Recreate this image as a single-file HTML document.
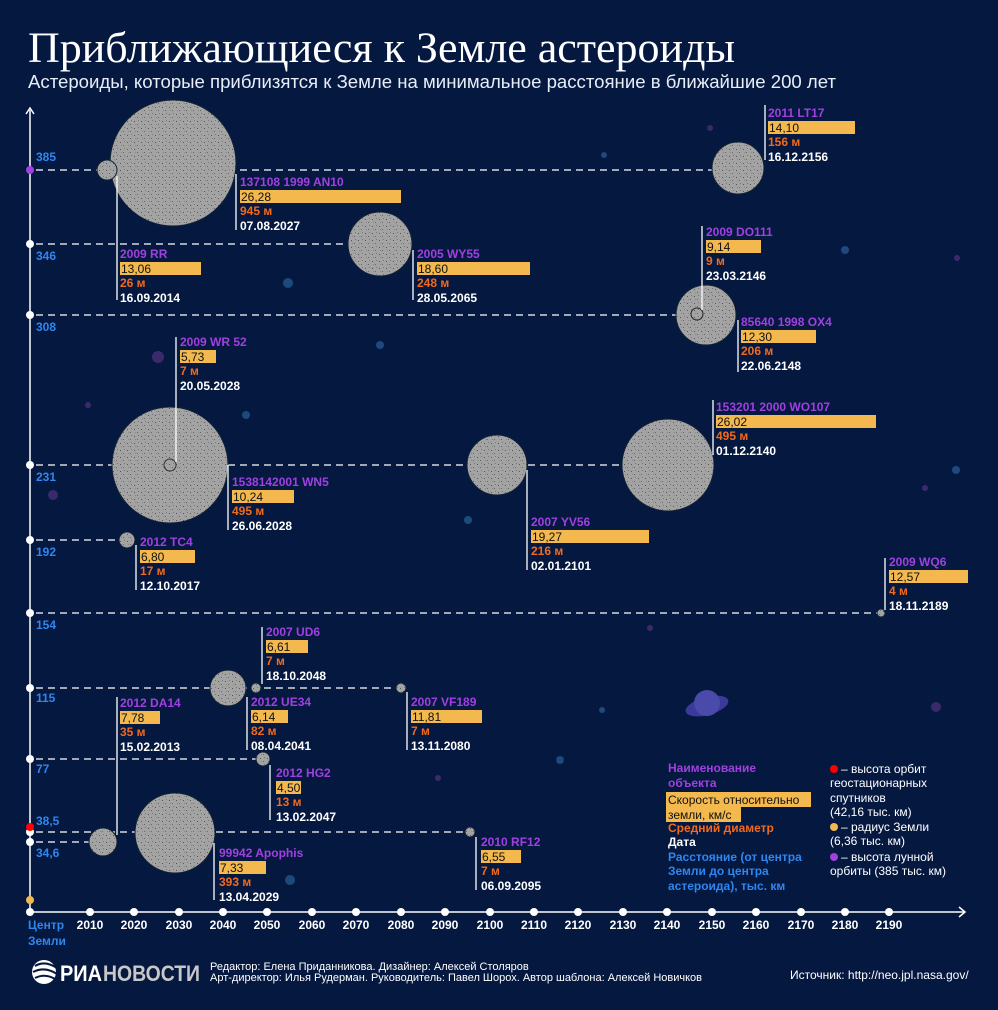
<!DOCTYPE html>
<html><head><meta charset="utf-8"><style>
html,body{margin:0;padding:0;background:#051840;}
svg{display:block;font-family:"Liberation Sans","DejaVu Sans",sans-serif;}
.n{fill:#a040e0;font-size:12px;font-weight:bold}
.s{fill:#111;font-size:12px}
.d{fill:#f26a1b;font-size:12px;font-weight:bold}
.t{fill:#fff;font-size:12px;font-weight:bold}
.b{fill:#f3b84e}
.v{stroke:#fff;stroke-width:1.3}
.ds{stroke:#fff;stroke-width:1.3;stroke-dasharray:7 5}
.a{fill:url(#dots)}
.yl{fill:#2e86f0;font-size:12px;font-weight:bold}
.tk{fill:#fff;font-size:12px;font-weight:bold;text-anchor:middle}
.lg{font-size:12px}
</style></head><body>
<svg width="998" height="1010" viewBox="0 0 998 1010">
<defs>
<pattern id="dots" width="7" height="7" patternUnits="userSpaceOnUse">
<rect width="7" height="7" fill="#a3a3a3"/>
<rect x="1" y="2" width="1" height="1" fill="#555"/>
<rect x="4" y="5" width="1" height="1" fill="#666"/>
<rect x="5" y="1" width="1" height="1" fill="#777"/>
<rect x="2" y="5" width="1" height="1" fill="#888"/>
</pattern>
</defs>
<rect width="998" height="1010" fill="#051840"/>
<g fill="#1c4a7a">
<circle cx="288" cy="283" r="5"/><circle cx="246" cy="415" r="4"/><circle cx="380" cy="345" r="4"/><circle cx="290" cy="880" r="5"/><circle cx="468" cy="520" r="4"/><circle cx="956" cy="470" r="4"/><circle cx="845" cy="250" r="4"/><circle cx="604" cy="155" r="3"/><circle cx="560" cy="760" r="4"/><circle cx="602" cy="710" r="3"/>
</g>
<g fill="#3a2a6a">
<circle cx="158" cy="357" r="6"/><circle cx="53" cy="495" r="5"/><circle cx="88" cy="405" r="3"/><circle cx="936" cy="707" r="5"/><circle cx="925" cy="488" r="3"/><circle cx="710" cy="128" r="3"/><circle cx="438" cy="778" r="3"/><circle cx="957" cy="258" r="3"/><circle cx="650" cy="628" r="3"/></g>
<ellipse cx="707" cy="706" rx="22" ry="9" fill="#3a3a9a" transform="rotate(-15 707 706)"/>
<circle cx="707" cy="703" r="13" fill="#4a4aaa"/>
<text x="28" y="62" fill="#fff" font-family="Liberation Serif,serif" font-size="43" textLength="707" lengthAdjust="spacingAndGlyphs">Приближающиеся к Земле астероиды</text>
<text x="28" y="88" fill="#e8eef8" font-size="18.5" textLength="808" lengthAdjust="spacingAndGlyphs">Астероиды, которые приблизятся к Земле на минимальное расстояние в ближайшие 200 лет</text>
<line x1="30" y1="110" x2="30" y2="912" stroke="#fff" stroke-width="1.5"/>
<polyline points="26,114 30,108 34,114" fill="none" stroke="#fff" stroke-width="1.5"/>
<line x1="30" y1="912" x2="965" y2="912" stroke="#fff" stroke-width="1.5"/>
<polyline points="959,907 965,912 959,917" fill="none" stroke="#fff" stroke-width="1.5"/>
<g fill="#fff">
<circle cx="30" cy="912" r="4"/><circle cx="90" cy="912" r="4"/><circle cx="134" cy="912" r="4"/><circle cx="179" cy="912" r="4"/><circle cx="223" cy="912" r="4"/><circle cx="267" cy="912" r="4"/><circle cx="312" cy="912" r="4"/><circle cx="356" cy="912" r="4"/><circle cx="401" cy="912" r="4"/><circle cx="445" cy="912" r="4"/><circle cx="490" cy="912" r="4"/><circle cx="534" cy="912" r="4"/><circle cx="578" cy="912" r="4"/><circle cx="623" cy="912" r="4"/><circle cx="667" cy="912" r="4"/><circle cx="712" cy="912" r="4"/><circle cx="756" cy="912" r="4"/><circle cx="801" cy="912" r="4"/><circle cx="845" cy="912" r="4"/><circle cx="889" cy="912" r="4"/>
</g>
<g class="tk">
<text x="90" y="929">2010</text><text x="134" y="929">2020</text><text x="179" y="929">2030</text><text x="223" y="929">2040</text><text x="267" y="929">2050</text><text x="312" y="929">2060</text><text x="356" y="929">2070</text><text x="401" y="929">2080</text><text x="445" y="929">2090</text><text x="490" y="929">2100</text><text x="534" y="929">2110</text><text x="578" y="929">2120</text><text x="623" y="929">2130</text><text x="667" y="929">2140</text><text x="712" y="929">2150</text><text x="756" y="929">2160</text><text x="801" y="929">2170</text><text x="845" y="929">2180</text><text x="889" y="929">2190</text>
</g>
<text x="28" y="929" class="yl">Центр</text><text x="28" y="945" class="yl">Земли</text>
<line x1="36" y1="170" x2="730" y2="170" class="ds"/>
<line x1="36" y1="244" x2="360" y2="244" class="ds"/>
<line x1="36" y1="315" x2="690" y2="315" class="ds"/>
<line x1="36" y1="465" x2="640" y2="465" class="ds"/>
<line x1="36" y1="540" x2="122" y2="540" class="ds"/>
<line x1="36" y1="613" x2="878" y2="613" class="ds"/>
<line x1="36" y1="688" x2="398" y2="688" class="ds"/>
<line x1="36" y1="759" x2="258" y2="759" class="ds"/>
<line x1="36" y1="832" x2="466" y2="832" class="ds"/>
<line x1="36" y1="842" x2="90" y2="842" class="ds"/>
<circle cx="30" cy="170" r="4" fill="#a040e0"/>
<g fill="#fff"><circle cx="30" cy="244" r="4"/><circle cx="30" cy="315" r="4"/><circle cx="30" cy="465" r="4"/><circle cx="30" cy="540" r="4"/><circle cx="30" cy="613" r="4"/><circle cx="30" cy="688" r="4"/><circle cx="30" cy="759" r="4"/><circle cx="30" cy="832" r="4"/><circle cx="30" cy="842" r="4"/></g>
<circle cx="30" cy="827" r="4" fill="#f00"/>
<circle cx="30" cy="900" r="4" fill="#f3b84e"/>
<g class="yl">
<text x="36" y="161">385</text><text x="36" y="260">346</text><text x="36" y="331">308</text><text x="36" y="481">231</text><text x="36" y="556">192</text><text x="36" y="629">154</text><text x="36" y="702">115</text><text x="36" y="773">77</text><text x="36" y="825">38,5</text><text x="36" y="857">34,6</text>
</g>
<g class="a" stroke="#123" stroke-width="1">
<circle cx="173" cy="163" r="63"/>
<circle cx="107" cy="170" r="10"/>
<circle cx="380" cy="244" r="32"/>
<circle cx="738" cy="168" r="26"/>
<circle cx="706" cy="315" r="30"/>
<circle cx="170" cy="465" r="58"/>
<circle cx="497" cy="465" r="30"/>
<circle cx="668" cy="465" r="46"/>
<circle cx="127" cy="540" r="8"/>
<circle cx="881" cy="613" r="4"/>
<circle cx="256" cy="688" r="5"/>
<circle cx="228" cy="688" r="18"/>
<circle cx="401" cy="688" r="5"/>
<circle cx="263" cy="759" r="7"/>
<circle cx="103" cy="842" r="14"/>
<circle cx="175" cy="833" r="40"/>
<circle cx="470" cy="832" r="5"/>
</g>
<circle cx="697" cy="314" r="6" fill="none" stroke="#222" stroke-width="1"/>
<circle cx="170" cy="465" r="6" fill="none" stroke="#333" stroke-width="1"/>
<g class="v">
<line x1="117" y1="176" x2="117" y2="300"/>
<line x1="236" y1="174" x2="236" y2="230"/>
<line x1="413" y1="250" x2="413" y2="300"/>
<line x1="765" y1="105" x2="765" y2="160"/>
<line x1="702" y1="226" x2="702" y2="310"/>
<line x1="738" y1="320" x2="738" y2="372"/>
<line x1="176" y1="337" x2="176" y2="462"/>
<line x1="228" y1="465" x2="228" y2="530"/>
<line x1="527" y1="470" x2="527" y2="570"/>
<line x1="713" y1="400" x2="713" y2="455"/>
<line x1="136" y1="545" x2="136" y2="590"/>
<line x1="885" y1="558" x2="885" y2="610"/>
<line x1="262" y1="627" x2="262" y2="684"/>
<line x1="117" y1="697" x2="117" y2="835"/>
<line x1="247" y1="697" x2="247" y2="750"/>
<line x1="407" y1="692" x2="407" y2="750"/>
<line x1="270" y1="765" x2="270" y2="820"/>
<line x1="214" y1="843" x2="214" y2="900"/>
<line x1="476" y1="837" x2="476" y2="890"/>
</g>
<g>
<text class="n" x="240" y="186">137108 1999 AN10</text><rect class="b" x="240" y="190" width="161" height="13"/><text class="s" x="241" y="201">26,28</text><text class="d" x="240" y="215">945 м</text><text class="t" x="240" y="230">07.08.2027</text>
<text class="n" x="120" y="258">2009 RR</text><rect class="b" x="120" y="262" width="81" height="13"/><text class="s" x="121" y="273">13,06</text><text class="d" x="120" y="287">26 м</text><text class="t" x="120" y="302">16.09.2014</text>
<text class="n" x="417" y="258">2005 WY55</text><rect class="b" x="417" y="262" width="113" height="13"/><text class="s" x="418" y="273">18,60</text><text class="d" x="417" y="287">248 м</text><text class="t" x="417" y="302">28.05.2065</text>
<text class="n" x="768" y="117">2011 LT17</text><rect class="b" x="768" y="121" width="87" height="13"/><text class="s" x="769" y="132">14,10</text><text class="d" x="768" y="146">156 м</text><text class="t" x="768" y="161">16.12.2156</text>
<text class="n" x="706" y="236">2009 DO111</text><rect class="b" x="706" y="240" width="55" height="13"/><text class="s" x="707" y="251">9,14</text><text class="d" x="706" y="265">9 м</text><text class="t" x="706" y="280">23.03.2146</text>
<text class="n" x="741" y="326">85640 1998 OX4</text><rect class="b" x="741" y="330" width="75" height="13"/><text class="s" x="742" y="341">12,30</text><text class="d" x="741" y="355">206 м</text><text class="t" x="741" y="370">22.06.2148</text>
<text class="n" x="180" y="346">2009 WR 52</text><rect class="b" x="180" y="350" width="36" height="13"/><text class="s" x="181" y="361">5,73</text><text class="d" x="180" y="375">7 м</text><text class="t" x="180" y="390">20.05.2028</text>
<text class="n" x="232" y="486">1538142001 WN5</text><rect class="b" x="232" y="490" width="62" height="13"/><text class="s" x="233" y="501">10,24</text><text class="d" x="232" y="515">495 м</text><text class="t" x="232" y="530">26.06.2028</text>
<text class="n" x="531" y="526">2007 YV56</text><rect class="b" x="531" y="530" width="118" height="13"/><text class="s" x="532" y="541">19,27</text><text class="d" x="531" y="555">216 м</text><text class="t" x="531" y="570">02.01.2101</text>
<text class="n" x="716" y="411">153201 2000 WO107</text><rect class="b" x="716" y="415" width="160" height="13"/><text class="s" x="717" y="426">26,02</text><text class="d" x="716" y="440">495 м</text><text class="t" x="716" y="455">01.12.2140</text>
<text class="n" x="140" y="546">2012 TC4</text><rect class="b" x="140" y="550" width="55" height="13"/><text class="s" x="141" y="561">6,80</text><text class="d" x="140" y="575">17 м</text><text class="t" x="140" y="590">12.10.2017</text>
<text class="n" x="889" y="566">2009 WQ6</text><rect class="b" x="889" y="570" width="79" height="13"/><text class="s" x="890" y="581">12,57</text><text class="d" x="889" y="595">4 м</text><text class="t" x="889" y="610">18.11.2189</text>
<text class="n" x="266" y="636">2007 UD6</text><rect class="b" x="266" y="640" width="42" height="13"/><text class="s" x="267" y="651">6,61</text><text class="d" x="266" y="665">7 м</text><text class="t" x="266" y="680">18.10.2048</text>
<text class="n" x="120" y="707">2012 DA14</text><rect class="b" x="120" y="711" width="40" height="13"/><text class="s" x="121" y="722">7,78</text><text class="d" x="120" y="736">35 м</text><text class="t" x="120" y="751">15.02.2013</text>
<text class="n" x="251" y="706">2012 UE34</text><rect class="b" x="251" y="710" width="37" height="13"/><text class="s" x="252" y="721">6,14</text><text class="d" x="251" y="735">82 м</text><text class="t" x="251" y="750">08.04.2041</text>
<text class="n" x="411" y="706">2007 VF189</text><rect class="b" x="411" y="710" width="71" height="13"/><text class="s" x="412" y="721">11,81</text><text class="d" x="411" y="735">7 м</text><text class="t" x="411" y="750">13.11.2080</text>
<text class="n" x="276" y="777">2012 HG2</text><rect class="b" x="276" y="781" width="25" height="13"/><text class="s" x="277" y="792">4,50</text><text class="d" x="276" y="806">13 м</text><text class="t" x="276" y="821">13.02.2047</text>
<text class="n" x="219" y="857">99942 Apophis</text><rect class="b" x="219" y="861" width="47" height="13"/><text class="s" x="220" y="872">7,33</text><text class="d" x="219" y="886">393 м</text><text class="t" x="219" y="901">13.04.2029</text>
<text class="n" x="481" y="846">2010 RF12</text><rect class="b" x="481" y="850" width="40" height="13"/><text class="s" x="482" y="861">6,55</text><text class="d" x="481" y="875">7 м</text><text class="t" x="481" y="890">06.09.2095</text>
</g>
<g class="lg" font-weight="bold">
<text x="668" y="772" fill="#a040e0">Наименование</text>
<text x="668" y="787" fill="#a040e0">объекта</text>
<rect class="b" x="666" y="792" width="145" height="15"/>
<rect class="b" x="666" y="807" width="75" height="15"/>
<text x="668" y="804" fill="#111" font-weight="normal">Скорость относительно</text>
<text x="668" y="819" fill="#111" font-weight="normal">земли, км/с</text>
<text x="668" y="832" fill="#f26a1b">Средний диаметр</text>
<text x="668" y="846" fill="#fff">Дата</text>
<text x="668" y="861" fill="#2e86f0">Расстояние (от центра</text>
<text x="668" y="875" fill="#2e86f0">Земли до центра</text>
<text x="668" y="890" fill="#2e86f0">астероида), тыс. км</text>
</g>
<g class="lg" fill="#fff">
<circle cx="834" cy="769" r="4" fill="#f00"/><text x="841" y="773">– высота орбит</text>
<text x="830" y="787">геостационарных</text>
<text x="830" y="802">спутников</text>
<text x="830" y="816">(42,16 тыс. км)</text>
<circle cx="834" cy="827" r="4" fill="#f3b84e"/><text x="841" y="831">– радиус Земли</text>
<text x="830" y="845">(6,36 тыс. км)</text>
<circle cx="834" cy="857" r="4" fill="#a040e0"/><text x="841" y="861">– высота лунной</text>
<text x="830" y="875">орбиты (385 тыс. км)</text>
</g>
<circle cx="44" cy="972" r="12" fill="#fff"/>
<path d="M35 966 q10 -6 22 2 M33 972 q12 -6 24 2 M35 978 q10 -5 20 1" stroke="#051840" stroke-width="2" fill="none"/>
<text x="60" y="981" fill="#fff" font-size="22" font-weight="bold" textLength="42" lengthAdjust="spacingAndGlyphs">РИА</text>
<text x="103" y="981" fill="#c8c8c8" font-size="22" font-weight="bold" textLength="97" lengthAdjust="spacingAndGlyphs">НОВОСТИ</text>
<text x="210" y="970" fill="#fff" font-size="11">Редактор: Елена Приданникова. Дизайнер: Алексей Столяров</text>
<text x="210" y="981" fill="#fff" font-size="11">Арт-директор: Илья Рудерман. Руководитель: Павел Шорох. Автор шаблона: Алексей Новичков</text>
<text x="790" y="979" fill="#fff" font-size="12">Источник: http://neo.jpl.nasa.gov/</text>
</svg>
</body></html>
